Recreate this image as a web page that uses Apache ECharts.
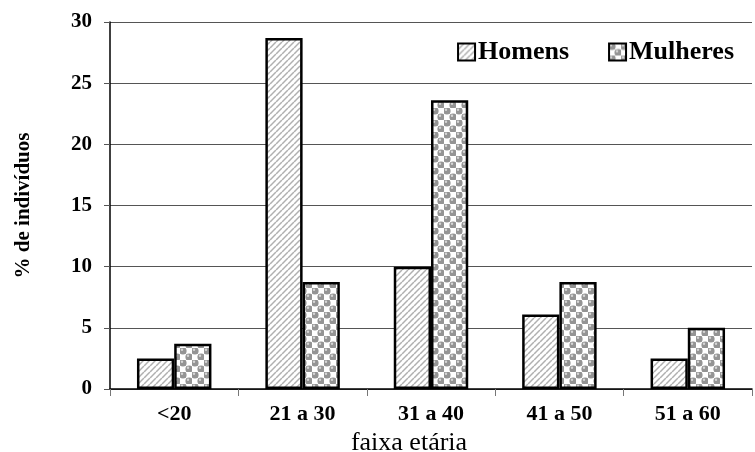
<!DOCTYPE html>
<html>
<head>
<meta charset="utf-8">
<script src="https://cdn.jsdelivr.net/npm/echarts@6/dist/echarts.min.js"></script>
<style>
  html, body { margin: 0; padding: 0; background: #fff; }
  #chart { width: 755px; height: 452px; }
</style>
</head>
<body>
<div id="chart"></div>
<script>
const categories = ["<20", "21 a 30", "31 a 40", "41 a 50", "51 a 60"];
const homens = [2.5, 28.7, 10.0, 6.1, 2.5];
const mulheres = [3.7, 8.75, 23.6, 8.75, 5.0];
const yTicks = [0, 5, 10, 15, 20, 25, 30];

// hachura diagonal
function hatch() {
  const c = document.createElement("canvas");
  c.width = 6; c.height = 6;
  const g = c.getContext("2d");
  g.fillStyle = "#fff";
  g.fillRect(0, 0, 6, 6);
  g.strokeStyle = "#b0b0b0";
  g.lineWidth = 1.5;
  for (let k = -6; k <= 12; k += 6) {
    g.beginPath();
    g.moveTo(k, 6);
    g.lineTo(k + 6, 0);
    g.stroke();
  }
  return c;
}

// bolinhas em xadrez
function dots() {
  const c = document.createElement("canvas");
  c.width = 12; c.height = 12;
  const g = c.getContext("2d");
  g.fillStyle = "#fff";
  g.fillRect(0, 0, 12, 12);
  g.fillStyle = "#c4c4c4";
  g.fillRect(0, 0, 6, 6);
  g.fillRect(6, 6, 6, 6);
  [[3, 3], [9, 9]].forEach(function (p) {
    g.fillStyle = "#949494";
    g.beginPath();
    g.arc(p[0], p[1], 3.6, 0, Math.PI * 2);
    g.fill();
    g.fillStyle = "#d6d6d6";
    g.beginPath();
    g.arc(p[0] - 1, p[1] - 1.2, 1.2, 0, Math.PI * 2);
    g.fill();
  });
  return c;
}

const font = "Liberation Serif";

const option = {
  animation: false,
  backgroundColor: "#fff",
  grid: { left: 110, right: 3, top: 22, bottom: 63, containLabel: false, outerBoundsMode: "none" },
  legend: {
    right: 16,
    top: 34,
    itemWidth: 17,
    itemHeight: 17,
    itemGap: 39,
    icon: "rect",
    textStyle: { fontFamily: font, fontWeight: "bold", fontSize: 26, color: "#000", padding: [0, 0, 0, -2] },
    data: ["Homens", "Mulheres"],
  },
  xAxis: {
    type: "category",
    data: categories,
    name: "faixa etária",
    nameLocation: "middle",
    nameGap: 39,
    nameTextStyle: { fontFamily: font, fontSize: 26, color: "#000", padding: [0, 44, 0, 0] },
    axisLine: { lineStyle: { color: "#000", width: 1.5 } },
    axisTick: { show: true, length: 7, lineStyle: { color: "#777" } },
    axisLabel: { fontFamily: font, fontWeight: "bold", fontSize: 22, color: "#000", margin: 14 },
  },
  yAxis: {
    type: "value",
    min: 0,
    max: 30,
    interval: 5,
    name: "% de indivíduos",
    nameLocation: "middle",
    nameGap: 76,
    nameTextStyle: { fontFamily: font, fontWeight: "bold", fontSize: 21, color: "#000" },
    axisLine: { show: true, lineStyle: { color: "#000", width: 1.5 } },
    axisTick: { show: true, length: 6, lineStyle: { color: "#555" } },
    axisLabel: {
      fontFamily: font, fontWeight: "bold", fontSize: 21, color: "#000", margin: 18,
      formatter: function (v) { return yTicks.indexOf(v) >= 0 ? String(v) : ""; },
    },
    splitLine: { lineStyle: { color: "#555", width: 1 } },
  },
  series: [
    {
      name: "Homens",
      type: "bar",
      data: homens,
      barWidth: "29%",
      barGap: "0%",
      itemStyle: { color: { image: hatch(), repeat: "repeat" }, borderColor: "#000", borderWidth: 2.5 },
    },
    {
      name: "Mulheres",
      type: "bar",
      data: mulheres,
      barWidth: "29%",
      itemStyle: { color: { image: dots(), repeat: "repeat" }, borderColor: "#000", borderWidth: 2.5 },
    },
  ],
};

const myChart = echarts.init(document.getElementById("chart"));
myChart.setOption(option);
</script>
</body>
</html>
